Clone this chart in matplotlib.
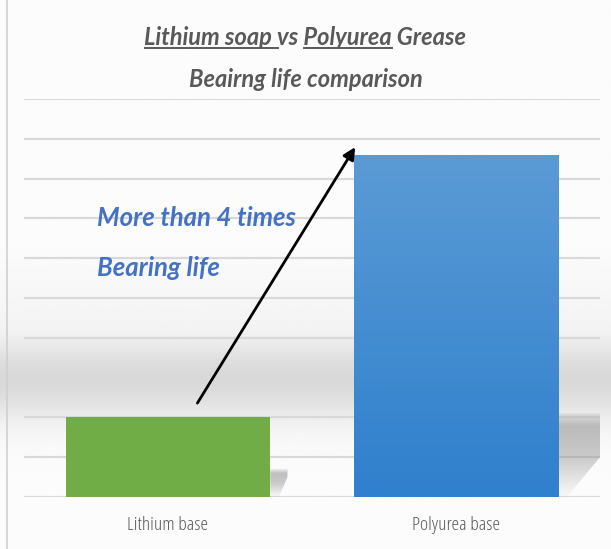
import numpy as np
import matplotlib
matplotlib.use("Agg")
import matplotlib.pyplot as plt
from matplotlib.colors import LinearSegmentedColormap
from matplotlib.patches import Polygon

# data
categories = ["Lithium base", "Polyurea base"]
life = [2.0, 8.6]
bar_colors = ["#70AD47", "#5B9BD5"]
title_l1 = "Lithium soap vs Polyurea Grease"
title_l2 = "Beairng life comparison"
note = ["More than 4 times", "Bearing life"]

plt.rcParams['font.family'] = ['Lato', 'DejaVu Sans']

fig = plt.figure(figsize=(6.11, 5.49), dpi=100)

# background gradient over whole figure
bg = fig.add_axes([0, 0, 1, 1], zorder=-5)
yy = np.linspace(0, 1, 400)
shade = 0.985 - 0.135 * np.exp(-((yy - 0.69) / 0.075) ** 2)
shade = np.minimum(shade, 0.985 - 0.05 * np.clip((yy - 0.45) / 0.24, 0, 1) * (yy < 0.69))
img = np.repeat(shade[:, None], 2, axis=1)
bg.imshow(img, cmap="gray", vmin=0, vmax=1, aspect="auto", extent=[0, 1, 0, 1])
bg.axvline(0.012, color="#d0d0d0", lw=1.2)
bg.set_xlim(0, 1); bg.set_ylim(0, 1)
bg.axis("off")

ax = fig.add_axes([24 / 611, 1 - 497 / 549, 576 / 611, 398 / 549])
ax.patch.set_alpha(0)
x = np.arange(len(categories))
bars = ax.bar(x, life, width=0.71, color=bar_colors, zorder=3)

# gradient on the blue bar
blue = LinearSegmentedColormap.from_list("b", ["#2F80CD", "#5B9BD5"])
b = bars[1]
grad = np.linspace(0, 1, 200)[:, None]
im = ax.imshow(grad, cmap=blue, aspect="auto", origin="lower", zorder=3,
               extent=[b.get_x(), b.get_x() + b.get_width(), 0, b.get_height()])
im.set_clip_path(b)

# "page curl" shadows to the right of the bars
shadow_cmap = LinearSegmentedColormap.from_list(
    "s", [(0, (0.55, 0.55, 0.55, 0.03)), (0.5, (0.55, 0.55, 0.55, 0.45)),
          (0.85, (0.55, 0.55, 0.55, 0.55)), (1, (0.55, 0.55, 0.55, 0.15))])
def shadow(bar, top, mid, reach):
    x1 = bar.get_x() + bar.get_width()
    poly = Polygon([[x1, 0], [x1, top], [x1 + reach, top], [x1 + reach, mid], [x1 + 0.03, 0]],
                   closed=True, facecolor="none", lw=0, zorder=2)
    ax.add_patch(poly)
    g = ax.imshow(np.linspace(0, 1, 100)[:, None], cmap=shadow_cmap, aspect="auto", origin="lower",
                  zorder=2, extent=[x1, x1 + reach, 0, top], vmin=0, vmax=1)
    g.set_clip_path(poly)

shadow(bars[0], 0.7, 0.5, 0.06)
shadow(bars[1], 2.1, 1.0, 1.5 - (bars[1].get_x() + bars[1].get_width()))

ax.set_xlim(-0.5, 1.5)
ax.set_ylim(0, 10)
ax.set_yticks(np.arange(0, 11, 1))
ax.yaxis.grid(True, color="#d9d9d9", lw=1.6, zorder=0)
ax.tick_params(left=False, bottom=False, labelleft=False)
ax.set_xticks(x)
ax.set_xticklabels(categories, color="#595959", fontsize=14, family=["Open Sans", "DejaVu Sans"],
                   fontstretch="condensed")
ax.tick_params(axis="x", pad=10)
for s in ax.spines.values():
    s.set_visible(False)

# arrow
ax.annotate("", xy=(0.655, 8.85), xytext=(0.097, 2.3),
            arrowprops=dict(arrowstyle="-|>", color="black", lw=2, mutation_scale=18), zorder=5)

for line, yv in zip(note, [7.0, 5.75]):
    ax.text(-0.245, yv, line, color="#4472C4", fontsize=18.5, fontweight="bold", fontstyle="italic",
            va="center", ha="left", zorder=5)

# title with underlined words
tkw = dict(color="#595959", fontsize=17, fontweight="bold", fontstyle="italic", ha="center", va="baseline")
t1 = fig.text(0.5, 1 - 45 / 549, title_l1, **tkw)
fig.text(0.5, 1 - 87 / 549, title_l2, **tkw)

fig.canvas.draw()
r = fig.canvas.get_renderer()
full = t1.get_window_extent(r)

def width(s):
    t = fig.text(0, 0, s, **dict(tkw, ha="left"))
    w = t.get_window_extent(r).width
    t.remove()
    return w

x0 = full.x0
yline = full.y0 + 1
for a, bstr in [("", "Lithium soap "), ("Lithium soap vs ", "Lithium soap vs Polyurea")]:
    xa = x0 + (width(a) if a else 0)
    xb = x0 + width(bstr)
    fig.add_artist(plt.Line2D([xa / fig.bbox.width, xb / fig.bbox.width],
                              [yline / fig.bbox.height] * 2, color="#595959", lw=1.4))

fig.savefig("out.png", dpi=100)
